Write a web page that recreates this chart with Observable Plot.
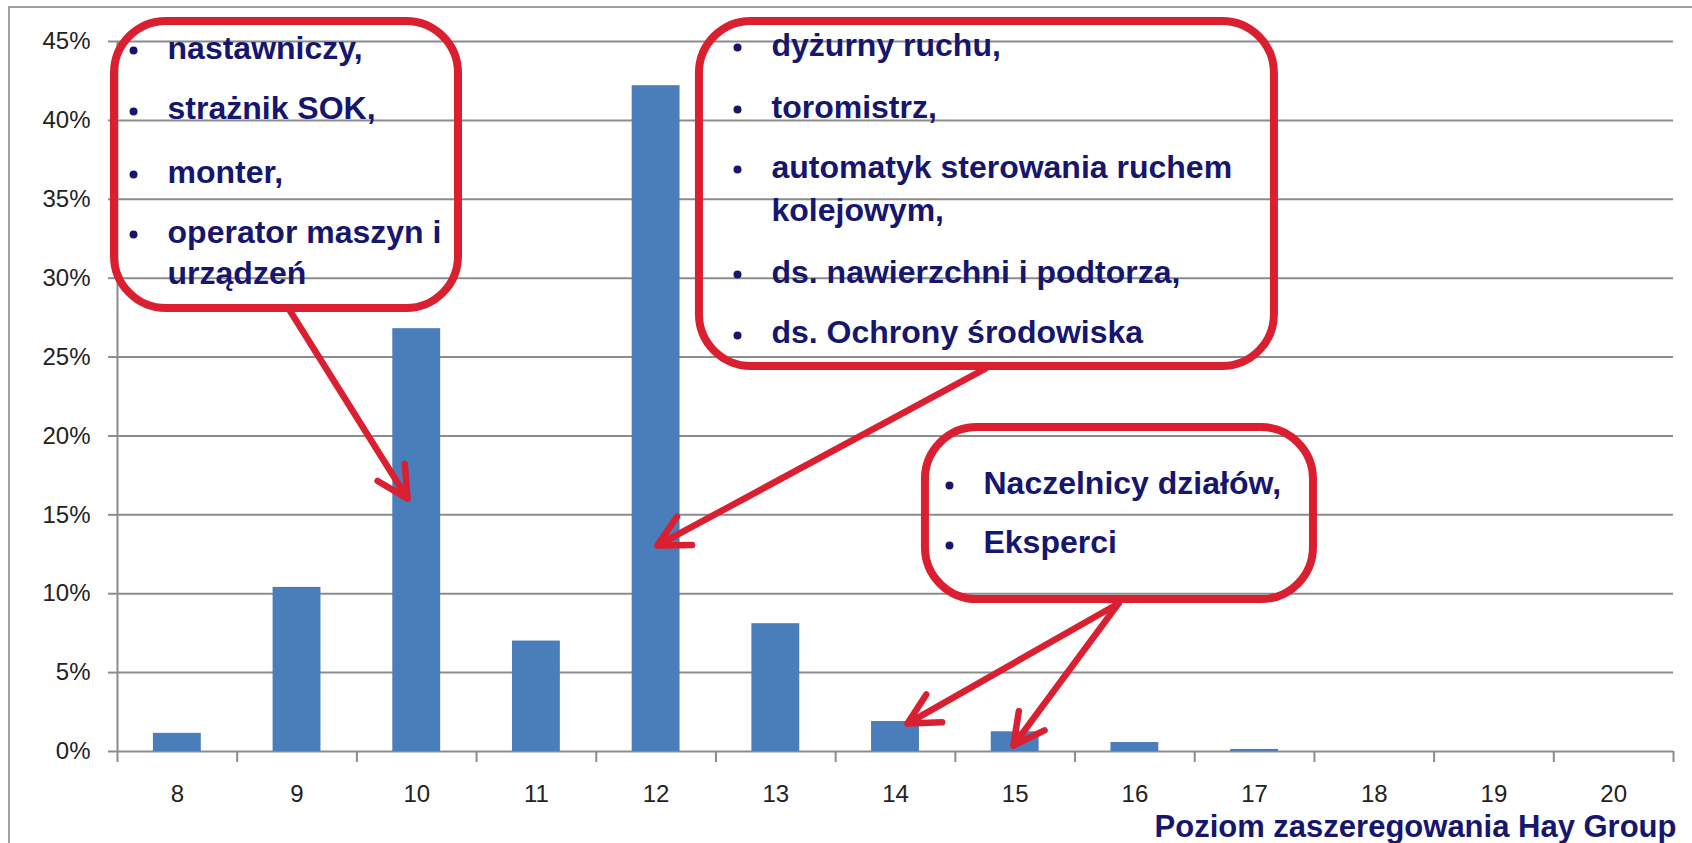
<!DOCTYPE html>
<html>
<head>
<meta charset="utf-8">
<script src="https://cdn.jsdelivr.net/npm/d3@7"></script>
<script src="https://cdn.jsdelivr.net/npm/@observablehq/plot@0.6"></script>
<style>
  html, body { margin: 0; padding: 0; background: #fff; overflow: hidden; }
  #wrap { position: relative; width: 1692px; height: 843px; }
  #border { position: absolute; left: 8px; top: 6px; width: 1800px; height: 900px; border-left: 2px solid #a0a0a0; border-top: 2px solid #a0a0a0; }
  #chart { position: absolute; left: 0; top: 0; }
</style>
</head>
<body>
<div id="wrap"><div id="border"></div><div id="chart"></div></div>
<script>
// ---- data ----
const categories = [8, 9, 10, 11, 12, 13, 14, 15, 16, 17, 18, 19, 20];
const shares = [1.15, 10.4, 26.8, 7.0, 42.2, 8.1, 1.9, 1.25, 0.57, 0.13, 0, 0, 0]; // percent
const yTicks = [0, 5, 10, 15, 20, 25, 30, 35, 40, 45];
const yTickLabels = ["0%", "5%", "10%", "15%", "20%", "25%", "30%", "35%", "40%", "45%"];
const xTitle = "Poziom zaszeregowania Hay Group";

// ---- annotations (in data units: category, percent) ----
const boxX1 = [7.475, 12.362, 14.250];
const boxX2 = [10.349, 17.166, 17.492];
const boxY1 = [28.08, 24.40, 9.63];
const boxY2 = [46.27, 46.27, 20.53];

const noteText = [
  "nastawniczy,", "strażnik SOK,", "monter,", "operator maszyn i", "urządzeń",
  "dyżurny ruchu,", "toromistrz,", "automatyk sterowania ruchem", "kolejowym,", "ds. nawierzchni i podtorza,", "ds. Ochrony środowiska",
  "Naczelnicy działów,", "Eksperci"
];
const noteX = [7.918, 7.918, 7.918, 7.918, 7.918,
  12.964, 12.964, 12.964, 12.964, 12.964, 12.964,
  14.735, 14.735];
const noteY = [43.92, 40.06, 36.06, 32.26, 29.66,
  44.11, 40.18, 36.38, 33.65, 29.72, 25.86,
  16.35, 12.55];
const noteBullet = [true, true, true, true, false,
  true, true, true, false, true, true,
  true, true];

const arrowX1 = [8.929, 14.751, 15.863, 15.863];
const arrowY1 = [28.08, 24.27, 9.38, 9.38];
const arrowX2 = [9.923, 12.011, 14.100, 14.985];
const arrowY2 = [16.03, 13.06, 1.77, 0.38];

// ---- tables ----
const bars = categories.map((c, i) => ({c, v: shares[i]}));
const boundaries = [...categories.map(c => c - 0.5), categories[categories.length - 1] + 0.5];
const boxes = boxX1.map((x, i) => ({x1: x, x2: boxX2[i], y1: boxY1[i], y2: boxY2[i]}));
const notes = noteText.map((t, i) => ({t, x: noteX[i], y: noteY[i], b: noteBullet[i]}));
const arrows = arrowX1.map((x, i) => ({x1: x, y1: arrowY1[i], x2: arrowX2[i], y2: arrowY2[i]}));

const RED = "#d91f30";
const NAVY = "#16166e";
const GRID = "#8c8c8c";

const chart = Plot.plot({
  width: 1692,
  height: 843,
  marginLeft: 117,
  marginRight: 19,
  marginTop: 41,
  marginBottom: 92,
  style: {fontFamily: "'Liberation Sans', Arial, sans-serif", fontSize: "24px", background: "transparent", color: "#222"},
  x: {domain: [7.5, 20.5], axis: null},
  y: {domain: [0, 45], axis: null},
  marks: [
    // gridlines
    Plot.ruleY(yTicks, {stroke: GRID, strokeWidth: 2}),
    // y axis ticks + labels
    Plot.axisY({ticks: yTicks, tickFormat: (d) => yTickLabels[yTicks.indexOf(d)], tickSize: 9, tickPadding: 18, stroke: GRID, strokeWidth: 2, fontSize: 24, fill: "#222", label: null}),
    // y axis line
    Plot.ruleX([boundaries[0]], {stroke: GRID, strokeWidth: 2}),
    // x axis ticks at category boundaries
    Plot.axisX({ticks: boundaries, tickSize: 11, tickFormat: () => "", stroke: GRID, strokeWidth: 2, label: null}),
    // x axis labels at categories
    Plot.axisX({ticks: categories, tickSize: 0, tickPadding: 33, fontSize: 24, fill: "#222", label: null}),
    // bars
    Plot.rectY(bars, {x1: d => d.c - 0.2, x2: d => d.c + 0.2, y1: 0, y2: "v", fill: "#4a7ebb"}),
    // callout boxes
    Plot.rect(boxes, {x1: "x1", x2: "x2", y1: "y1", y2: "y2", rx: 52, fill: "none", stroke: RED, strokeWidth: 8}),
    // arrows
    Plot.arrow(arrows, {x1: "x1", y1: "y1", x2: "x2", y2: "y2", stroke: RED, strokeWidth: 6.5, headLength: 8, headAngle: 55, strokeLinecap: "round", strokeLinejoin: "round"}),
    // bullets
    Plot.dot(notes.filter(d => d.b), {x: "x", y: "y", r: 4, fill: NAVY, stroke: "none", dx: -34, dy: -8}),
    // note text
    Plot.text(notes, {x: "x", y: "y", text: "t", textAnchor: "start", lineAnchor: "bottom", fontSize: 32, fontWeight: "bold", fill: NAVY}),
    // axis title
    Plot.text([xTitle], {frameAnchor: "bottom-right", dy: 85, dx: 3, fontSize: 31, fontWeight: "bold", fill: NAVY, lineAnchor: "bottom"})
  ]
});
document.getElementById("chart").appendChild(chart);
</script>
</body>
</html>
